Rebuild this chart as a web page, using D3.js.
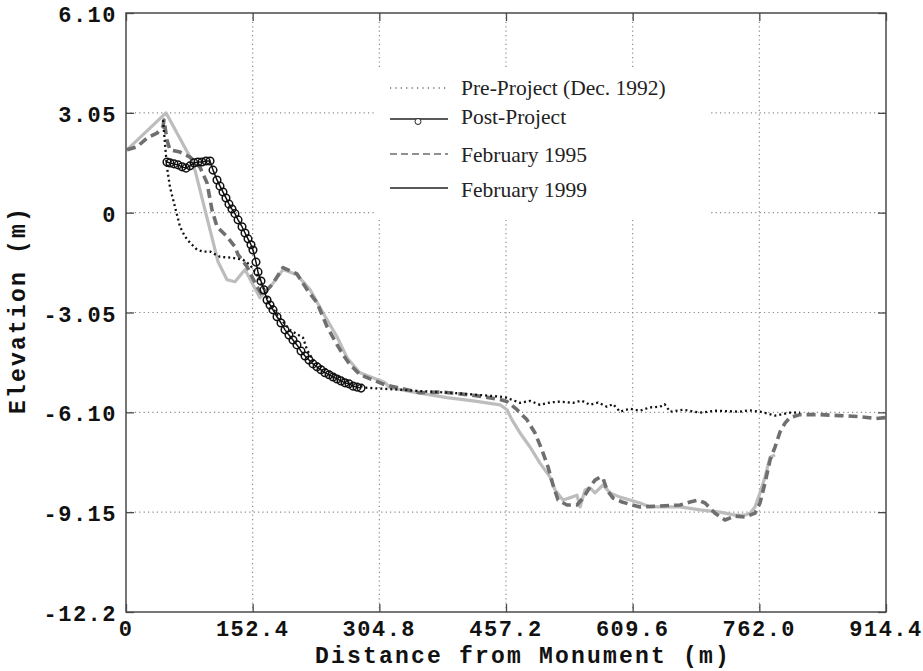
<!DOCTYPE html>
<html>
<head>
<meta charset="utf-8">
<script src="https://cdn.jsdelivr.net/npm/d3@7"></script>
<style>
  html, body { margin: 0; padding: 0; background: #fff; }
  svg { display: block; }
</style>
</head>
<body>
<svg id="chart" width="923" height="671"></svg>
<script>
// Beach profile survey: elevation vs. distance from monument
const xTicks = [0, 152.4, 304.8, 457.2, 609.6, 762.0, 914.4];
const xTickLabels = ["0", "152.4", "304.8", "457.2", "609.6", "762.0", "914.4"];
const yTicks = [6.10, 3.05, 0, -3.05, -6.10, -9.15, -12.2];
const yTickLabels = ["6.10", "3.05", "0", "-3.05", "-6.10", "-9.15", "-12.2"];

const seriesNames = ["Pre-Project (Dec. 1992)", "Post-Project", "February 1995", "February 1999"];

// Pre-Project survey (Dec. 1992): [distance m, elevation m]
const preProject = [
  [44.5, 2.83], [49.3, 1.39], [52.9, 0.78], [59.0, 0.17], [65.0, -0.43], [71.0, -0.73],
  [77.0, -0.92], [85.4, -1.13], [92.6, -1.19], [101.1, -1.19], [113.1, -1.35], [128.7, -1.38],
  [140.8, -1.44], [149.2, -1.59], [157.6, -1.90], [164.8, -2.26], [170.9, -2.67], [181.7, -3.12],
  [197.3, -3.58], [205.0, -3.70], [213.0, -3.82], [217.8, -4.19], [225.0, -4.50], [237.0, -4.74],
  [257.5, -5.04], [275.5, -5.26], [290.0, -5.35], [310.0, -5.38], [329.7, -5.41], [360.0, -5.46],
  [389.8, -5.50], [420.0, -5.56], [450.0, -5.62], [457.2, -5.65], [474.1, -5.81], [486.0, -5.75],
  [498.1, -5.87], [510.0, -5.80], [522.0, -5.77], [537.8, -5.81], [548.0, -5.74], [558.3, -5.87],
  [568.0, -5.80], [578.7, -5.93], [586.0, -5.85], [594.4, -6.08], [606.0, -5.99], [618.4, -6.05],
  [630.0, -5.95], [642.5, -5.93], [648.0, -5.85], [654.5, -6.08], [670.0, -6.02], [690.6, -6.11],
  [710.0, -6.05], [738.7, -6.08], [750.0, -6.04], [762.8, -6.08], [780.9, -6.20], [798.9, -6.11],
  [810.9, -6.11]
];

// Post-Project survey
const postProject = [
  [49.3, 1.55], [52.9, 1.52], [57.8, 1.49], [62.6, 1.46], [67.4, 1.40], [72.2, 1.36],
  [77.0, 1.43], [81.8, 1.52], [86.6, 1.55], [91.4, 1.55], [96.3, 1.58], [101.1, 1.58],
  [104.7, 1.30], [109.5, 1.00], [113.1, 0.81], [116.7, 0.63], [120.3, 0.45], [123.9, 0.26],
  [127.5, 0.11], [131.1, -0.03], [134.8, -0.22], [139.6, -0.43], [143.2, -0.62], [146.8, -0.80],
  [150.4, -0.98], [152.8, -1.14], [156.4, -1.51], [158.8, -1.81], [162.4, -2.09], [166.0, -2.36],
  [169.7, -2.67], [173.3, -2.82], [176.9, -2.97], [181.7, -3.18], [186.5, -3.37], [191.3, -3.58],
  [196.1, -3.74], [200.9, -3.89], [205.7, -4.04], [210.6, -4.23], [215.4, -4.38], [220.2, -4.50],
  [225.0, -4.62], [229.8, -4.71], [234.6, -4.80], [239.4, -4.89], [244.3, -4.95], [249.1, -5.02],
  [253.9, -5.08], [258.7, -5.14], [263.5, -5.20], [268.3, -5.23], [273.1, -5.30], [277.9, -5.33],
  [282.8, -5.36]
];

// February 1995 survey
const feb1995 = [
  [1.2, 1.92], [13.2, 2.01], [25.3, 2.28], [37.3, 2.43], [44.5, 2.62], [45.7, 2.83],
  [49.3, 2.22], [52.9, 1.92], [65.0, 1.85], [77.0, 1.70], [89.0, 1.39], [97.5, 0.91],
  [103.5, 0.08], [109.5, -0.43], [121.5, -0.73], [131.1, -1.04], [134.8, -1.28], [145.6, -1.65],
  [157.6, -2.26], [163.6, -2.51], [175.7, -2.20], [188.9, -1.68], [205.7, -1.87], [217.8, -2.35],
  [229.8, -2.75], [241.8, -3.48], [253.9, -4.03], [261.1, -4.34], [269.5, -4.64], [281.5, -4.95],
  [311.6, -5.26], [353.7, -5.50], [380.0, -5.48], [410.3, -5.56], [430.0, -5.62], [450.0, -5.71],
  [458.4, -5.77], [470.5, -6.02], [482.5, -6.33], [492.1, -6.73], [500.5, -7.25], [507.8, -7.77],
  [513.8, -8.32], [519.8, -8.78], [530.6, -8.93], [542.6, -8.93], [549.9, -8.72], [558.3, -8.38],
  [564.3, -8.17], [570.3, -8.08], [573.9, -8.11], [578.7, -8.47], [586.0, -8.72], [596.8, -8.84],
  [608.8, -8.93], [618.4, -8.99], [642.5, -8.96], [666.6, -8.93], [678.6, -8.84], [688.2, -8.78],
  [696.7, -8.87], [708.7, -9.18], [720.7, -9.39], [732.7, -9.27], [744.8, -9.30], [756.8, -9.18],
  [762.8, -8.87], [768.8, -8.26], [774.9, -7.56], [780.9, -7.16], [786.9, -6.70], [792.9, -6.43],
  [798.9, -6.26], [810.9, -6.17], [835.0, -6.17], [859.1, -6.20], [883.1, -6.23], [901.2, -6.29],
  [914.4, -6.26]
];

// February 1999 survey
const feb1999 = [
  [1.2, 1.92], [48.1, 3.05], [77.0, 1.70], [83.0, 1.30], [107.1, -1.13], [110.7, -1.50],
  [121.5, -2.05], [131.1, -2.11], [143.2, -1.74], [152.8, -2.20], [161.2, -2.60], [175.7, -2.20],
  [188.9, -1.74], [205.7, -1.90], [221.4, -2.35], [237.0, -3.06], [253.9, -3.79], [265.9, -4.43],
  [281.5, -4.89], [311.6, -5.19], [317.7, -5.35], [350.0, -5.50], [386.2, -5.65], [420.0, -5.76],
  [450.0, -5.87], [458.4, -6.02], [464.4, -6.33], [474.1, -6.73], [486.1, -7.16], [498.1, -7.65],
  [510.2, -8.08], [516.2, -8.47], [525.8, -8.78], [536.6, -8.69], [542.6, -8.63], [546.3, -8.99],
  [552.3, -8.47], [558.3, -8.41], [564.3, -8.56], [573.9, -8.32], [582.3, -8.56], [594.4, -8.69],
  [606.4, -8.78], [618.4, -8.87], [630.5, -8.99], [666.6, -8.99], [690.6, -9.08], [714.7, -9.15],
  [732.7, -9.24], [744.8, -9.24], [750.8, -9.18], [756.8, -8.99], [762.8, -8.56], [768.8, -8.08],
  [774.9, -7.47], [780.9, -7.40]
];

const svg = d3.select("#chart");
const plot = { left: 126, right: 886, top: 13, bottom: 612 };

const x = d3.scaleLinear().domain([0, 914.4]).range([plot.left, plot.right]);
const y = d3.scaleLinear().domain([-12.2, 6.10]).range([plot.bottom, plot.top]);

const monoFont = "'Liberation Mono', 'Courier New', monospace";
const serifFont = "'Liberation Serif', 'Times New Roman', serif";

// dotted grid
const grid = svg.append("g").attr("stroke", "#8a8a8a").attr("stroke-width", 1.2)
  .attr("stroke-dasharray", "1.2,3.2");
grid.selectAll("line.vx").data(xTicks.slice(1, -1)).join("line")
  .attr("x1", d => x(d)).attr("x2", d => x(d))
  .attr("y1", plot.top).attr("y2", plot.bottom);
grid.selectAll("line.hy").data(yTicks.slice(1, -1)).join("line")
  .attr("x1", plot.left).attr("x2", plot.right)
  .attr("y1", d => y(d)).attr("y2", d => y(d));

// profiles
const line = d3.line().x(d => x(d[0])).y(d => y(d[1]));
const lines = svg.append("g").attr("fill", "none").attr("stroke-linejoin", "round");

lines.append("path").datum(feb1999).attr("d", line)
  .attr("stroke", "#bdbdbd").attr("stroke-width", 3.2);

lines.append("path").datum(feb1995).attr("d", line)
  .attr("stroke", "#6f6f6f").attr("stroke-width", 3.6)
  .attr("stroke-dasharray", "9,5");

lines.append("path").datum(preProject).attr("d", line)
  .attr("stroke", "#111").attr("stroke-width", 2.3)
  .attr("stroke-dasharray", "2,3");

lines.append("path").datum(postProject).attr("d", line)
  .attr("stroke", "#111").attr("stroke-width", 1.5);
svg.append("g").selectAll("circle").data(postProject).join("circle")
  .attr("cx", d => x(d[0])).attr("cy", d => y(d[1])).attr("r", 3.8)
  .attr("fill", "none").attr("stroke", "#111").attr("stroke-width", 1.5);

// frame and inward ticks
svg.append("rect")
  .attr("x", plot.left).attr("y", plot.top)
  .attr("width", plot.right - plot.left).attr("height", plot.bottom - plot.top)
  .attr("fill", "none").attr("stroke", "#4a4a4a").attr("stroke-width", 1.5);

const axB = d3.axisBottom(x).tickValues(xTicks).tickSize(-8).tickFormat("");
const axT = d3.axisTop(x).tickValues(xTicks).tickSize(-8).tickFormat("");
const axL = d3.axisLeft(y).tickValues(yTicks).tickSize(-8).tickFormat("");
const axR = d3.axisRight(y).tickValues(yTicks).tickSize(-8).tickFormat("");
[[axB, `translate(0,${plot.bottom})`], [axT, `translate(0,${plot.top})`],
 [axL, `translate(${plot.left},0)`], [axR, `translate(${plot.right},0)`]].forEach(([ax, t]) => {
  const g = svg.append("g").attr("transform", t).call(ax);
  g.select(".domain").remove();
  g.selectAll(".tick line").attr("stroke", "#4a4a4a").attr("stroke-width", 1.3);
});

// tick labels
svg.append("g").selectAll("text").data(xTicks).join("text")
  .attr("x", d => x(d)).attr("y", 636)
  .attr("text-anchor", "middle")
  .attr("font-family", monoFont).attr("font-weight", "bold")
  .attr("font-size", 22).attr("letter-spacing", 1.5).attr("fill", "#111")
  .text((d, i) => xTickLabels[i]);

svg.append("g").selectAll("text").data(yTicks).join("text")
  .attr("x", 117).attr("y", d => y(d) + 9)
  .attr("text-anchor", "end")
  .attr("font-family", monoFont).attr("font-weight", "bold")
  .attr("font-size", 22).attr("letter-spacing", 1.5).attr("fill", "#111")
  .text((d, i) => yTickLabels[i]);

// axis titles
svg.append("text")
  .attr("x", 523).attr("y", 663).attr("text-anchor", "middle")
  .attr("font-family", monoFont).attr("font-weight", "bold")
  .attr("font-size", 23).attr("letter-spacing", 2.2).attr("fill", "#111")
  .text("Distance from Monument (m)");

svg.append("text")
  .attr("transform", "translate(25,310) rotate(-90)")
  .attr("text-anchor", "middle")
  .attr("font-family", monoFont).attr("font-weight", "bold")
  .attr("font-size", 23).attr("letter-spacing", 2.2).attr("fill", "#111")
  .text("Elevation (m)");

// legend
const legend = svg.append("g");
legend.append("rect").attr("x", 376).attr("y", 67).attr("width", 334).attr("height", 153)
  .attr("fill", "#fff");

const legendRows = [
  { name: seriesNames[0], lineY: 88, textY: 95, dash: "1.2,4.2", marker: false },
  { name: seriesNames[1], lineY: 119, textY: 124, dash: null, marker: true },
  { name: seriesNames[2], lineY: 154, textY: 162, dash: "7,4", marker: false },
  { name: seriesNames[3], lineY: 188, textY: 197, dash: null, marker: false }
];
legendRows.forEach(r => {
  const seg = legend.append("line")
    .attr("x1", 390).attr("x2", 448).attr("y1", r.lineY).attr("y2", r.lineY)
    .attr("stroke", "#222").attr("stroke-width", r.dash ? 1.2 : 1.4);
  if (r.dash) seg.attr("stroke-dasharray", r.dash);
  if (r.marker) {
    legend.append("circle").attr("cx", 418).attr("cy", r.lineY + 2.5).attr("r", 3)
      .attr("fill", "#fff").attr("stroke", "#222").attr("stroke-width", 1);
  }
  legend.append("text")
    .attr("x", 461).attr("y", r.textY)
    .attr("font-family", serifFont).attr("font-size", 21.5).attr("fill", "#222")
    .text(r.name);
});
</script>
</body>
</html>
